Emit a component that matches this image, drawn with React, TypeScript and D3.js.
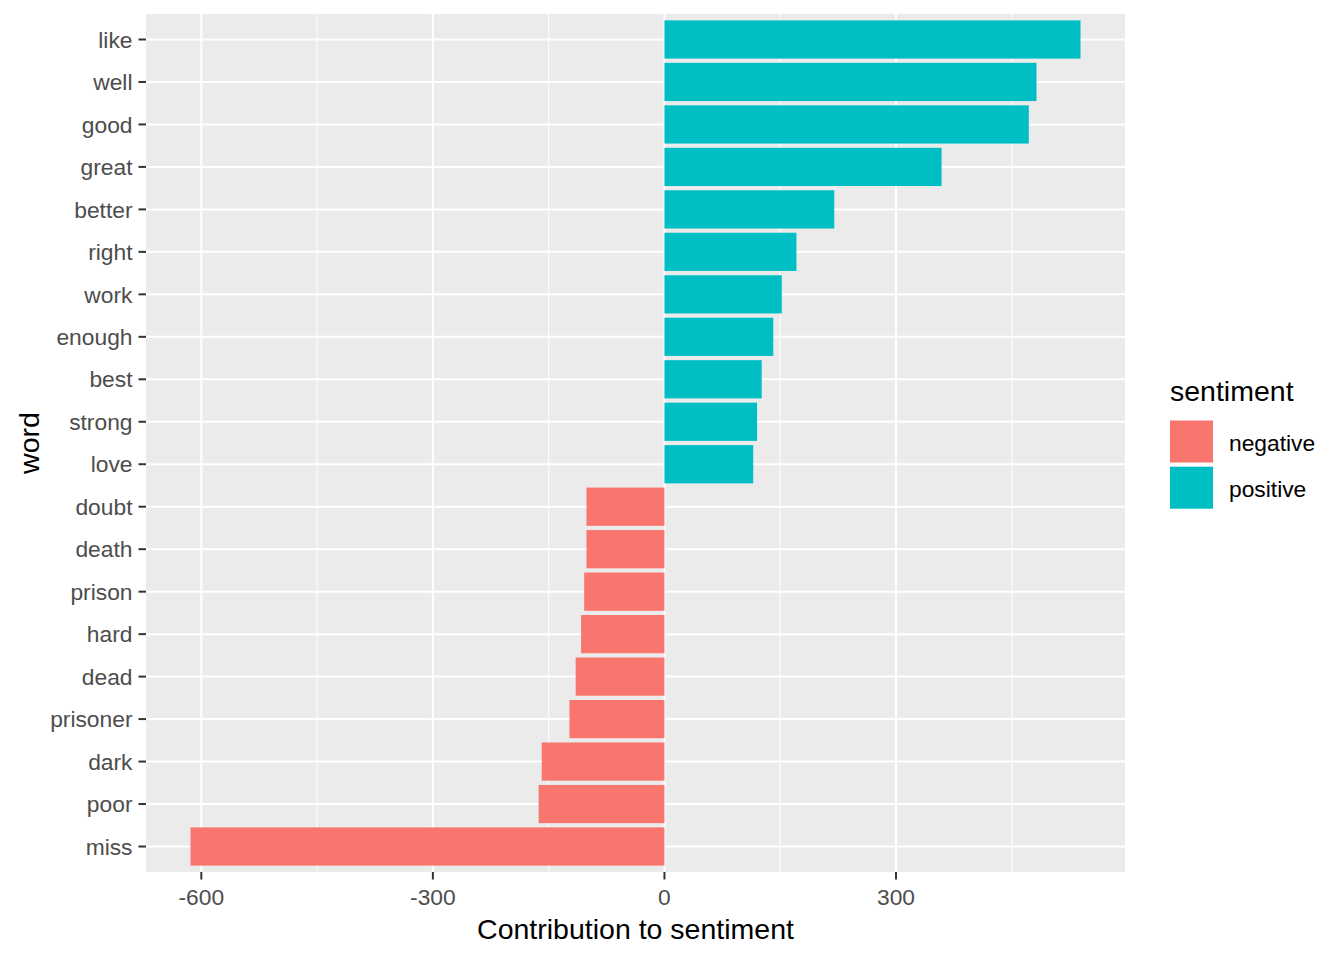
import { useEffect, useRef } from 'react';
import * as d3 from 'd3';

// words from top to bottom, with their contribution to sentiment
const words: string[] = ['like', 'well', 'good', 'great', 'better', 'right', 'work', 'enough', 'best', 'strong', 'love',
    'doubt', 'death', 'prison', 'hard', 'dead', 'prisoner', 'dark', 'poor', 'miss'];
const contributions: number[] = [539, 482, 472, 359, 220, 171, 152, 141, 126, 120, 115,
    -101, -101, -104, -108, -115, -123, -159, -163, -614];
const sentimentLevels: string[] = ['negative', 'positive'];
const xTicks: number[] = [-600, -300, 0, 300];
const xMinor: number[] = [-450, -150, 150, 450];

const colors: Record<string, string> = { negative: '#F8766D', positive: '#00BFC4' };

export default function App() {
    const svgRef = useRef<SVGSVGElement | null>(null);

    useEffect(() => {
        if (!svgRef.current) return;
        const svg = d3.select(svgRef.current);
        svg.selectAll('*').remove();

        const panel = { left: 146, right: 1125, top: 14, bottom: 872 };
        const font = '"Liberation Sans", Arial, sans-serif';
        const tickSize = 22.8;
        const titleSize = 28.5;

        // continuous x with ggplot's 5% expansion
        const lo = d3.min(contributions)!;
        const hi = d3.max(contributions)!;
        const pad = (hi - lo) * 0.05;
        const x = d3.scaleLinear().domain([lo - pad, hi + pad]).range([panel.left, panel.right]);

        // discrete y with 0.6 expansion
        const y = d3.scalePoint<string>().domain(words).range([panel.top, panel.bottom]).padding(0.6);
        const barH = y.step() * 0.9;

        svg.append('rect')
            .attr('x', panel.left).attr('y', panel.top)
            .attr('width', panel.right - panel.left).attr('height', panel.bottom - panel.top)
            .attr('fill', '#EBEBEB');

        // grid
        svg.selectAll('.minor').data(xMinor).enter().append('line')
            .attr('x1', d => x(d)).attr('x2', d => x(d))
            .attr('y1', panel.top).attr('y2', panel.bottom)
            .attr('stroke', '#fff').attr('stroke-width', 1);
        svg.selectAll('.majorx').data(xTicks).enter().append('line')
            .attr('x1', d => x(d)).attr('x2', d => x(d))
            .attr('y1', panel.top).attr('y2', panel.bottom)
            .attr('stroke', '#fff').attr('stroke-width', 2);
        svg.selectAll('.majory').data(words).enter().append('line')
            .attr('x1', panel.left).attr('x2', panel.right)
            .attr('y1', d => y(d)!).attr('y2', d => y(d)!)
            .attr('stroke', '#fff').attr('stroke-width', 2);

        // bars
        svg.selectAll('.bar').data(words).enter().append('rect')
            .attr('x', (_, i) => x(Math.min(0, contributions[i])))
            .attr('width', (_, i) => Math.abs(x(contributions[i]) - x(0)))
            .attr('y', d => y(d)! - barH / 2)
            .attr('height', barH)
            .attr('fill', (_, i) => colors[contributions[i] < 0 ? 'negative' : 'positive']);

        // y axis ticks + labels
        const yAxis = svg.append('g');
        words.forEach(w => {
            yAxis.append('line')
                .attr('x1', panel.left - 7.5).attr('x2', panel.left)
                .attr('y1', y(w)!).attr('y2', y(w)!)
                .attr('stroke', '#333').attr('stroke-width', 2);
            yAxis.append('text')
                .attr('x', panel.left - 13.5).attr('y', y(w)!)
                .attr('dy', '0.36em')
                .attr('text-anchor', 'end')
                .attr('font-family', font).attr('font-size', tickSize)
                .attr('fill', '#4D4D4D')
                .text(w);
        });

        // x axis ticks + labels
        const xAxis = svg.append('g');
        xTicks.forEach(t => {
            xAxis.append('line')
                .attr('x1', x(t)).attr('x2', x(t))
                .attr('y1', panel.bottom).attr('y2', panel.bottom + 7.5)
                .attr('stroke', '#333').attr('stroke-width', 2);
            xAxis.append('text')
                .attr('x', x(t)).attr('y', 905)
                .attr('text-anchor', 'middle')
                .attr('font-family', font).attr('font-size', tickSize)
                .attr('fill', '#4D4D4D')
                .text(String(t));
        });

        // axis titles
        svg.append('text')
            .attr('x', (panel.left + panel.right) / 2).attr('y', 939)
            .attr('text-anchor', 'middle')
            .attr('font-family', font).attr('font-size', titleSize)
            .attr('fill', '#000')
            .text('Contribution to sentiment');
        svg.append('text')
            .attr('transform', `translate(39,${(panel.top + panel.bottom) / 2}) rotate(-90)`)
            .attr('text-anchor', 'middle')
            .attr('font-family', font).attr('font-size', titleSize)
            .attr('fill', '#000')
            .text('word');

        // legend
        const legend = svg.append('g');
        legend.append('text')
            .attr('x', 1170).attr('y', 401)
            .attr('font-family', font).attr('font-size', titleSize)
            .attr('fill', '#000')
            .text('sentiment');
        sentimentLevels.forEach((s, i) => {
            const top = 420.5 + i * 46.2;
            legend.append('rect')
                .attr('x', 1170).attr('y', top)
                .attr('width', 43).attr('height', 42)
                .attr('fill', colors[s]);
            legend.append('text')
                .attr('x', 1229).attr('y', top + 22)
                .attr('dy', '0.36em')
                .attr('font-family', font).attr('font-size', tickSize)
                .attr('fill', '#000')
                .text(s);
        });

        return () => { svg.selectAll('*').remove(); };
    }, []);

    return (
        <div style={{ width: 1344, height: 960, margin: -8 }}>
            <svg width="1344" height="960" ref={svgRef} style={{ display: 'block', background: '#fff' }}></svg>
        </div>
    );
}
